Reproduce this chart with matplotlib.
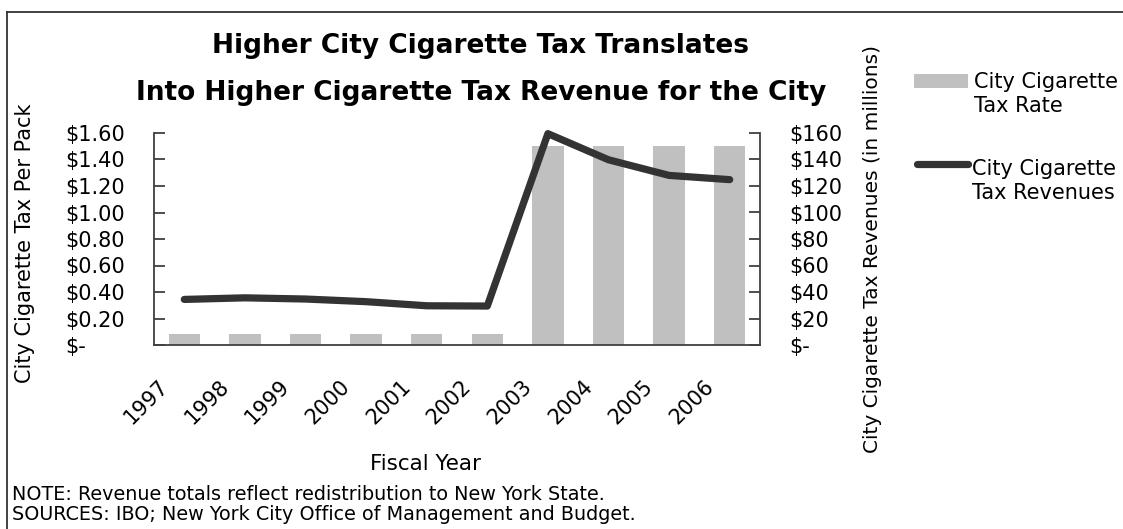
import matplotlib

matplotlib.use("Agg")
import matplotlib.pyplot as plt
import numpy as np
from matplotlib.lines import Line2D
from matplotlib.patches import Rectangle
from matplotlib.ticker import FuncFormatter
from matplotlib.transforms import ScaledTranslation

YEARS = ["1997", "1998", "1999", "2000", "2001", "2002", "2003", "2004", "2005", "2006"]
# city tax per pack, dollars
TAX_RATE = [0.08, 0.08, 0.08, 0.08, 0.08, 0.08, 1.50, 1.50, 1.50, 1.50]
# city cigarette tax revenues, $ millions
REVENUE = [34.4, 35.6, 34.7, 32.7, 29.6, 29.4, 159.5, 139.8, 128.0, 124.8]

BAR_COLOR = "#c0c0c0"
LINE_COLOR = "#333333"
AXIS_COLOR = "#404040"
FONT = "DejaVu Sans"

W, H = 1123, 529
plt.rcParams["font.family"] = FONT
fig = plt.figure(figsize=(W / 100, H / 100), dpi=100)


def px(x, y):
    return x / W, 1 - y / H


ax = fig.add_axes([154 / W, 1 - 345 / H, (760 - 154) / W, (345 - 133) / H])
x = np.arange(len(YEARS))
ax.bar(x, TAX_RATE, width=0.52, color=BAR_COLOR, linewidth=0)
ax.set_xlim(-0.5, len(YEARS) - 0.5)
ax.set_ylim(0, 1.6)
ax.set_yticks(np.arange(0, 1.61, 0.2))
ax.yaxis.set_major_formatter(FuncFormatter(lambda v, _: "$-" if abs(v) < 1e-9 else f"${v:.2f}"))

ax2 = ax.twinx()
ax2.plot(x, REVENUE, color=LINE_COLOR, lw=5.2, solid_capstyle="round",
         solid_joinstyle="round", clip_on=False)
ax2.set_ylim(0, 160)
ax2.set_yticks(np.arange(0, 161, 20))
ax2.yaxis.set_major_formatter(FuncFormatter(lambda v, _: "$-" if abs(v) < 1e-9 else f"${v:.0f}"))

for a in (ax, ax2):
    a.spines["top"].set_visible(False)
    for s in a.spines.values():
        s.set_color(AXIS_COLOR)
        s.set_linewidth(1.3)
ax2.spines["left"].set_visible(False)
ax2.spines["bottom"].set_visible(False)
ax.spines["right"].set_visible(False)

ax.tick_params(axis="y", direction="in", length=8, width=1.3, color=AXIS_COLOR,
               labelsize=15, pad=64)
ax2.tick_params(axis="y", direction="in", length=8, width=1.3, color=AXIS_COLOR,
                labelsize=15, pad=21)
for lbl in ax.get_yticklabels():
    lbl.set_ha("left")

ax.set_xticks(x, YEARS)
ax.tick_params(axis="x", length=0, pad=0, labelsize=15)
shift = ScaledTranslation(-0.38, -0.57, fig.dpi_scale_trans)
for lbl in ax.get_xticklabels():
    lbl.set_rotation(45)
    lbl.set_rotation_mode("anchor")
    lbl.set_ha("center")
    lbl.set_va("center")
    lbl.set_transform(lbl.get_transform() + shift)

# titles and axis labels
fig.text(*px(481, 53), "Higher City Cigarette Tax Translates", ha="center",
         va="baseline", fontsize=19, fontweight="bold")
fig.text(*px(481, 100), "Into Higher Cigarette Tax Revenue for the City", ha="center",
         va="baseline", fontsize=19, fontweight="bold")
fig.text(*px(25, 383), "City Cigarette Tax Per Pack", rotation=90, ha="center",
         va="bottom", fontsize=15)
fig.text(*px(872, 453), "City Cigarette Tax Revenues (in millions)", rotation=90,
         ha="center", va="bottom", fontsize=14.5)
fig.text(*px(425, 464), "Fiscal Year", ha="center", va="center", fontsize=15.5)
fig.text(*px(12, 494), "NOTE: Revenue totals reflect redistribution to New York State.",
         ha="left", va="center", fontsize=13.8)
fig.text(*px(12, 514), "SOURCES: IBO; New York City Office of Management and Budget.",
         ha="left", va="center", fontsize=13.8)

# legend: key aligned with the first line of each two-line label
fig.add_artist(Rectangle(px(914, 88), 54 / W, 14 / H, transform=fig.transFigure,
                         facecolor=BAR_COLOR, edgecolor="none"))
fig.text(*px(974, 94), "City Cigarette\nTax Rate", ha="left", va="center",
         fontsize=15, linespacing=1.25)
fig.add_artist(Line2D([917 / W, 968 / W], [1 - 164 / H] * 2, transform=fig.transFigure,
                      color=LINE_COLOR, lw=5.2, solid_capstyle="round"))
fig.text(*px(972, 181), "City Cigarette\nTax Revenues", ha="left", va="center",
         fontsize=15, linespacing=1.25)

# outer frame (top and left edges)
fig.add_artist(Line2D([7 / W, 1], [1 - 12 / H] * 2, transform=fig.transFigure,
                      color=LINE_COLOR, lw=1.3))
fig.add_artist(Line2D([7 / W] * 2, [0, 1 - 12 / H], transform=fig.transFigure,
                      color=LINE_COLOR, lw=1.3))

fig.savefig("out.png", dpi=100)
